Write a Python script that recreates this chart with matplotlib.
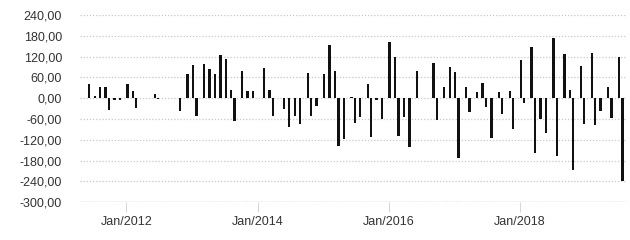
import numpy as np
import pandas as pd
import matplotlib
matplotlib.use("Agg")
import matplotlib.pyplot as plt

# monthly balance, May/2011 .. Aug/2019 (0 = no value that month)
months = pd.date_range("2011-05-01", "2019-08-01", freq="MS")
values = (
    [0, 41, 5, 32, 32, -33, -5, -5] +                                  # 2011 (May-Dec)
    [40, 20, -27, 0, 0, 12, -3, 0, 0, 0, -38, 70] +                    # 2012
    [95, -50, 100, 84, 70, 126, 114, 23, -66, 79, 21, 20] +            # 2013
    [0, 88, 23, -52, 0, -31, -83, -52, -74, 72, -50, -22] +            # 2014
    [70, 155, 78, -138, -118, 4, -73, -53, 40, -113, -5, -61] +        # 2015
    [163, 120, -108, -55, -140, 80, 0, 0, 102, -64, 33, 89] +          # 2016
    [77, -174, 32, -40, 19, 43, -24, -115, 17, -47, 20, -88] +         # 2017
    [109, -13, 148, -158, -60, -100, 175, -166, 128, 24, -206, 93] +   # 2018
    [-74, 132, -78, -37, 31, -56, 118, -238]                           # 2019 (Jan-Aug)
)
y_ticks = [240, 180, 120, 60, 0, -60, -120, -180, -240, -300]
x_tick_months = ["2012-01-01", "2014-01-01", "2016-01-01", "2018-01-01"]

plt.rcParams["font.family"] = ["Liberation Sans", "DejaVu Sans"]

v = np.array(values, dtype=float)
x = np.arange(len(months))
pos = np.where(v > 0, v, 0)
neg = np.where(v < 0, v, 0)

fig = plt.figure(figsize=(6.3, 2.4), dpi=100)
ax = fig.add_axes([0.127, 0.158, 0.867, 0.779])

# negatives sit left of the month slot, positives right
off, w = 0.19, 0.43
ax.bar(x - off, neg, width=w, color="#111111", zorder=3)
ax.bar(x + off, pos, width=w, color="#111111", zorder=3)

ax.set_xlim(-0.5, len(months) - 0.5)
ax.set_ylim(-300, 240)
ax.set_yticks(y_ticks)
ax.set_yticklabels([f"{t:.2f}".replace(".", ",") for t in y_ticks])

idx = [months.get_loc(pd.Timestamp(m)) for m in x_tick_months]
ax.set_xticks(idx)
ax.set_xticklabels([months[i].strftime("%b/%Y") for i in idx])

for t in y_ticks[:-1]:
    ax.axhline(t, color="#c8c8c8", lw=0.9, ls=(0, (1, 1.5)), zorder=1)
ax.axhline(-300, color="#9a9a9a", lw=1.0, ls=(0, (1, 1)), zorder=1)

for s in ax.spines.values():
    s.set_visible(False)
ax.tick_params(axis="y", length=0, pad=13, labelsize=9, labelcolor="#333333")
ax.tick_params(axis="x", length=7, width=0.6, color="#d0d0d0", pad=3,
               labelsize=9, labelcolor="#333333")

fig.savefig("out.png", dpi=100)
